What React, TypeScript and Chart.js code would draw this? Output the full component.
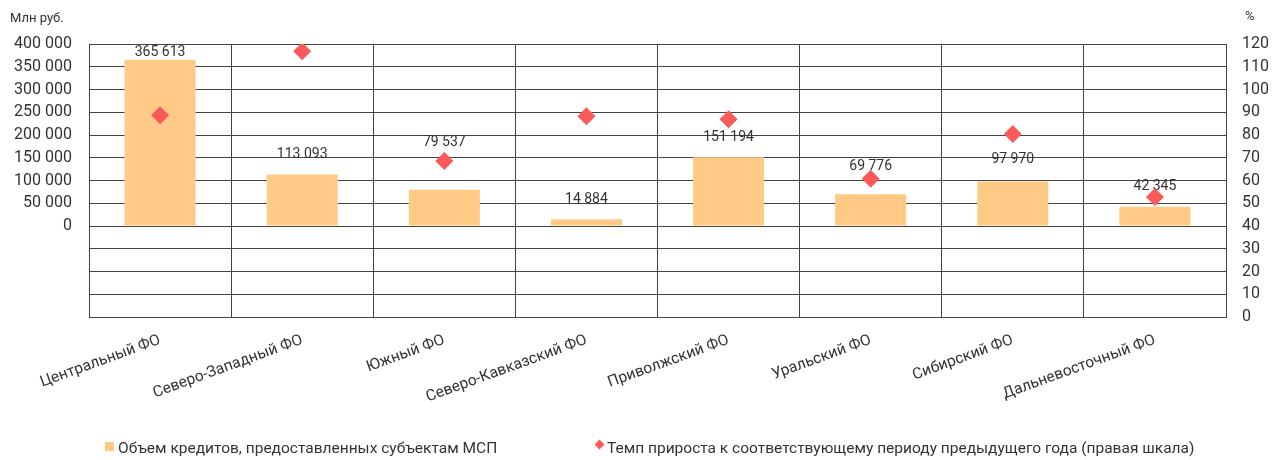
import React, { useEffect, useRef } from "react";
import { Chart, registerables } from "chart.js";

Chart.register(...registerables);

const categories = [
  "Центральный ФО",
  "Северо-Западный ФО",
  "Южный ФО",
  "Северо-Кавказский ФО",
  "Приволжский ФО",
  "Уральский ФО",
  "Сибирский ФО",
  "Дальневосточный ФО",
];
const loanVolume = [365613, 113093, 79537, 14884, 151194, 69776, 97970, 42345];
const growthRate = [88.7, 116.8, 68.6, 88.2, 86.9, 60.8, 80.4, 52.7];
const seriesNames = [
  "Объем кредитов, предоставленных субъектам МСП",
  "Темп прироста к соответствующему периоду предыдущего года (правая шкала)",
];
const leftUnit = "Млн руб.";
const rightUnit = "%";
// label lift (px above bar top) — styling only
const labelLift = [7, 20, 47, 20, 20, 28, 22, 20];

const BAR_COLOR = "#FFCA85";
const DOT_COLOR = "#FC5A5A";
const TEXT = "#333333";
const GRID = "#444444";
const FONT = "Roboto";

const fmt = (v: number) =>
  String(Math.round(v)).replace(/\B(?=(\d{3})+(?!\d))/g, " ");

const valueLabels = {
  id: "valueLabels",
  afterDatasetDraw(chart: any, args: any) {
    if (args.index !== 0) return;
    const ctx = chart.ctx;
    const meta = chart.getDatasetMeta(0);
    ctx.save();
    ctx.font = `14px ${FONT}`;
    ctx.fillStyle = TEXT;
    ctx.textAlign = "center";
    ctx.textBaseline = "middle";
    meta.data.forEach((el: any, i: number) => {
      ctx.fillText(fmt(loanVolume[i]), el.x, el.y - labelLift[i]);
    });
    ctx.restore();
  },
};

export default function App() {
  const ref = useRef<HTMLCanvasElement>(null);
  useEffect(() => {
    if (!ref.current) return;
    const chart = new Chart(ref.current, {
      type: "bar",
      data: {
        labels: categories,
        datasets: [
          {
            type: "bar",
            label: seriesNames[0],
            data: loanVolume,
            backgroundColor: BAR_COLOR,
            barPercentage: 0.5,
            categoryPercentage: 1,
            yAxisID: "y",
            order: 1,
          },
          {
            type: "line",
            label: seriesNames[1],
            data: growthRate,
            showLine: false,
            pointStyle: "rectRot",
            pointRadius: 9,
            pointBorderWidth: 0,
            pointBackgroundColor: DOT_COLOR,
            backgroundColor: DOT_COLOR,
            borderColor: DOT_COLOR,
            yAxisID: "y1",
            order: 0,
          },
        ],
      },
      options: {
        responsive: false,
        animation: false,
        layout: { padding: { top: 44, left: 0, right: 0, bottom: 0 } },
        plugins: { legend: { display: false }, tooltip: { enabled: false } },
        scales: {
          x: {
            offset: true,
            grid: { display: true, offset: true, color: GRID, lineWidth: 1, drawTicks: false },
            border: { display: true, color: GRID },
            ticks: {
              color: TEXT,
              font: { family: FONT, size: 15.5 },
              minRotation: 20,
              maxRotation: 20,
              autoSkip: false,
              padding: 14,
            },
            afterFit: (s: any) => {
              s.height = 143;
            },
          },
          y: {
            position: "left",
            min: -200000,
            max: 400000,
            grid: { color: GRID, lineWidth: 1, drawTicks: false },
            border: { display: true, color: GRID },
            ticks: {
              stepSize: 50000,
              color: TEXT,
              font: { family: FONT, size: 16 },
              padding: 17,
              callback: (v: any) => (Number(v) < 0 ? "" : fmt(Number(v))),
            },
            afterFit: (s: any) => {
              s.width = 89;
            },
          },
          y1: {
            position: "right",
            min: 0,
            max: 120,
            grid: { display: false, drawTicks: false },
            border: { display: true, color: GRID },
            ticks: {
              stepSize: 10,
              color: TEXT,
              font: { family: FONT, size: 16 },
              padding: 16,
            },
            afterFit: (s: any) => {
              s.width = 47;
            },
          },
        },
      },
      plugins: [valueLabels],
    });
    return () => chart.destroy();
  }, []);

  const textStyle: React.CSSProperties = {
    position: "absolute",
    fontFamily: FONT,
    color: TEXT,
    whiteSpace: "nowrap",
    lineHeight: "16px",
  };

  return (
    <div style={{ position: "fixed", left: 0, top: 0, width: 1273, height: 460, background: "#fff" }}>
      <canvas ref={ref} width={1273} height={460} style={{ position: "absolute", left: 0, top: 0 }} />
      <div style={{ ...textStyle, left: 10, top: 10, fontSize: 13 }}>{leftUnit}</div>
      <div style={{ ...textStyle, left: 1245, top: 8, fontSize: 13 }}>{rightUnit}</div>
      <div style={{ position: "absolute", left: 105, top: 442, width: 9, height: 9, background: BAR_COLOR }} />
      <div style={{ ...textStyle, left: 118, top: 440, fontSize: 15.5 }}>{seriesNames[0]}</div>
      <div
        style={{
          position: "absolute",
          left: 595.5,
          top: 440.5,
          width: 7,
          height: 7,
          background: DOT_COLOR,
          transform: "rotate(45deg)",
        }}
      />
      <div style={{ ...textStyle, left: 607, top: 440, fontSize: 15.5 }}>{seriesNames[1]}</div>
    </div>
  );
}
